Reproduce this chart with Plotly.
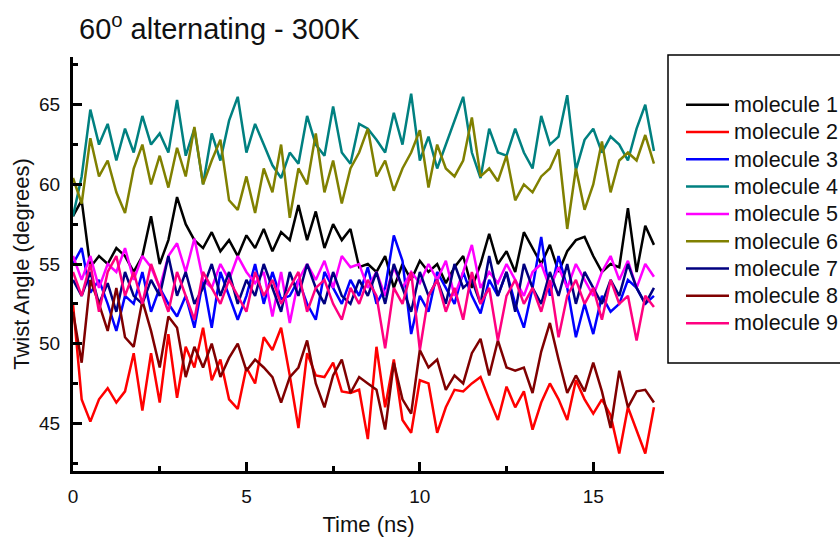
import numpy as np
import plotly.graph_objects as go

# time axis (ns), sampled every 0.25 ns
time_ns = [round(0.25 * i, 2) for i in range(68)]

molecule_1 = [58.0, 59.0, 54.8, 55.5,
              55.0, 56.0, 55.5, 54.5,
              55.5, 58.0, 55.0, 56.5,
              59.2, 57.5, 56.5, 56.0,
              57.0, 55.8, 56.5, 55.5,
              56.8, 56.0, 57.2, 55.8,
              57.0, 56.5, 58.7, 56.5,
              58.3, 56.0, 57.5, 56.5,
              57.2, 54.8, 55.0, 54.5,
              55.5, 53.5, 55.0, 54.0,
              55.2, 54.5, 55.0, 53.8,
              54.8, 55.5, 53.5, 55.0,
              56.9, 55.0, 55.8, 54.5,
              57.0, 56.0, 55.0, 56.2,
              54.5, 55.8, 56.5, 56.7,
              55.5, 54.5, 55.0, 54.8,
              58.5, 54.5, 57.4, 56.2]

molecule_2 = [52.5, 46.5, 45.1, 46.5,
              47.2, 46.3, 47.0, 49.4,
              45.8, 49.4, 46.3, 50.6,
              46.6, 49.8, 48.5, 51.0,
              47.7, 49.0, 46.5, 45.9,
              48.5, 47.5, 50.4, 49.6,
              51.0, 48.0, 44.7, 49.4,
              48.0, 47.9, 48.8, 47.0,
              46.9, 47.1, 44.0, 49.8,
              46.0, 49.0, 45.2, 44.4,
              47.7, 47.5, 44.4, 46.0,
              47.1, 47.0, 47.5, 47.9,
              46.5, 45.2, 47.3, 46.0,
              47.0, 44.6, 46.3, 47.5,
              46.5, 45.2, 47.7, 46.5,
              45.6, 46.5, 45.5, 43.1,
              46.0, 44.5, 43.1, 46.0]

molecule_3 = [55.0, 56.0, 53.2, 54.0,
              52.5, 50.8, 53.0, 52.5,
              54.5, 52.0, 53.5, 52.5,
              51.7, 53.0, 51.0, 54.0,
              51.0, 54.5, 53.0, 51.5,
              53.0, 55.0, 52.5, 54.5,
              52.8, 53.0, 54.0, 52.5,
              51.5, 54.5, 53.5, 52.5,
              54.0, 53.0, 54.8, 52.5,
              53.5, 56.8, 55.2, 50.6,
              53.0, 52.0, 54.5, 53.5,
              52.5, 54.5, 53.0, 51.9,
              54.0, 53.0, 54.5, 52.5,
              51.0, 53.5, 56.7, 53.0,
              55.5, 53.5, 50.4, 52.5,
              50.6, 53.0, 52.0, 52.5,
              54.0, 53.5, 52.5, 53.0]

molecule_4 = [58.0, 60.5, 64.7, 62.5,
              63.8, 61.5, 63.5, 62.0,
              64.3, 62.5, 63.2, 62.0,
              65.3, 61.8, 63.5, 60.0,
              63.2, 61.5, 64.0, 65.5,
              62.0, 63.8, 62.5, 61.2,
              60.4, 62.0, 61.3, 64.3,
              62.5, 61.8, 64.9, 62.0,
              61.3, 63.8, 63.5, 62.8,
              62.0, 64.5, 62.5, 65.7,
              61.5, 63.0, 61.0, 62.5,
              64.0, 65.5, 62.0, 60.4,
              63.5, 62.0, 61.8, 63.5,
              62.0, 61.0, 64.3, 62.5,
              63.0, 65.6, 60.9, 62.8,
              63.5, 62.0, 63.0, 62.5,
              61.5, 63.5, 65.0, 62.1]

molecule_5 = [55.5, 54.0, 55.5, 53.5,
              55.0, 54.5, 56.0, 54.0,
              55.5, 54.8, 53.5, 55.5,
              56.3, 54.5, 56.6, 54.0,
              53.5, 55.0, 54.0, 55.5,
              54.5, 53.8, 54.5, 51.7,
              54.5, 51.3, 54.0, 55.0,
              54.0, 55.2, 53.5, 55.5,
              54.8, 55.0, 53.5, 54.5,
              53.0, 54.8, 53.5, 54.5,
              53.8, 55.0, 54.0, 55.2,
              53.0, 54.5, 56.2, 53.5,
              54.5, 53.8, 55.0, 54.0,
              53.0, 54.5, 55.0, 53.5,
              54.8, 53.5, 55.0, 54.0,
              53.0, 54.5, 55.5, 54.0,
              55.2, 53.5, 55.0, 54.2]

molecule_6 = [60.4, 58.8, 62.9, 60.5,
              61.5, 59.5, 58.2, 61.0,
              62.5, 60.0, 61.8, 59.8,
              62.3, 60.5, 63.6, 60.0,
              61.5, 62.8, 59.0, 58.4,
              60.5, 58.2, 61.0, 59.5,
              62.5, 57.9, 61.0, 60.0,
              63.2, 59.5, 61.5, 58.8,
              61.0, 62.0, 63.5, 60.5,
              61.5, 59.6, 61.0, 62.0,
              63.4, 59.8, 62.5, 61.0,
              60.5, 61.5, 64.2, 60.5,
              61.0, 60.2, 61.8, 59.0,
              60.0, 59.5, 60.5, 61.0,
              62.2, 57.2, 61.0, 58.4,
              60.0, 62.7, 59.5, 61.5,
              62.0, 61.5, 63.1, 61.3]

molecule_7 = [54.0, 53.0, 54.5, 52.5,
              53.8, 52.0, 54.5, 53.0,
              52.5, 54.0, 53.0, 55.5,
              53.0, 54.5, 52.5, 53.5,
              55.0, 53.0, 54.5, 52.5,
              54.0, 53.0, 55.0, 53.5,
              52.0, 54.5, 53.0, 55.0,
              53.5, 52.5, 54.5, 53.0,
              52.5, 54.0, 53.0, 54.5,
              52.5, 55.0, 53.5, 52.0,
              54.5, 53.0, 54.0, 52.5,
              55.0, 53.5, 54.0, 52.5,
              55.5, 53.0, 54.5, 52.0,
              55.0, 53.5, 52.5, 54.5,
              53.0, 55.0, 52.5, 54.5,
              53.5, 52.5, 54.0, 53.0,
              55.0, 53.5, 52.5, 53.5]

molecule_8 = [52.0, 48.8, 54.0, 52.5,
              50.8, 53.5, 50.4, 49.8,
              52.7, 50.8, 48.5, 51.7,
              51.0, 47.9, 49.8, 48.5,
              50.0, 47.9, 49.1, 50.0,
              48.3, 49.0, 48.5, 47.9,
              46.3, 47.9, 48.5, 50.2,
              47.5, 46.0, 48.0, 49.0,
              46.9, 47.9, 47.5, 47.1,
              44.6, 48.8, 46.5, 45.6,
              49.6, 48.5, 49.0, 47.1,
              48.0, 47.5, 49.4, 50.3,
              48.0, 50.2, 48.5, 48.3,
              48.5, 46.9, 49.5, 51.3,
              49.0, 46.9, 48.0, 47.0,
              48.8, 47.0, 44.7, 48.3,
              46.0, 47.0, 47.1, 46.3]

molecule_9 = [54.5, 53.0, 55.0, 52.0,
              54.5, 55.5, 53.0, 54.5,
              52.5, 55.0, 53.5, 52.0,
              54.5, 53.0, 51.5, 54.5,
              53.5, 52.5, 54.0, 53.0,
              52.0, 54.5, 53.0, 54.0,
              52.5, 53.5, 54.5, 52.0,
              53.5, 54.0, 52.5, 51.5,
              53.5, 52.5, 54.0, 53.0,
              49.7, 53.5, 52.5, 54.5,
              49.6, 53.0, 54.0, 52.0,
              53.5, 51.5, 54.5, 52.5,
              53.5, 50.2, 53.0, 54.0,
              52.5, 53.5, 52.0, 54.0,
              50.4, 53.0, 54.0, 52.5,
              53.5, 51.5, 54.0, 52.5,
              53.0, 50.2, 53.0, 52.3]

series_names = ["molecule 1", "molecule 2", "molecule 3", "molecule 4", "molecule 5",
                "molecule 6", "molecule 7", "molecule 8", "molecule 9"]
series_values = [molecule_1, molecule_2, molecule_3, molecule_4, molecule_5,
                 molecule_6, molecule_7, molecule_8, molecule_9]
series_colors = ["#000000", "#FF0000", "#0000FF", "#008080", "#FF00FF",
                 "#808000", "#000080", "#800000", "#FF0080"]

FONT = "Liberation Sans, Arial, sans-serif"
TXT = "#111111"

fig = go.Figure()
for name, vals, col in zip(series_names, series_values, series_colors):
    fig.add_trace(go.Scatter(
        x=time_ns, y=vals, mode="lines",
        name='<span style="font-size:21.5px">' + name + '</span>',
        line=dict(color=col, width=2.5)))

L, R, T, B = 73, 176, 57, 66
PW = 840 - L - R
PH = 537 - T - B

fig.update_layout(
    width=840, height=537,
    margin=dict(l=L, r=R, t=T, b=B, autoexpand=False),
    paper_bgcolor="white", plot_bgcolor="white",
    font=dict(family=FONT, color=TXT),
    title=dict(text="60<sup>o</sup> alternating - 300K", x=79/840, xanchor="left",
               xref="container", y=1-29/537, yanchor="middle",
               font=dict(size=29, family=FONT, color=TXT)),
    showlegend=True,
    legend=dict(x=(681-L)/PW, xanchor="left", y=(537-B-86)/PH, yanchor="top",
                bgcolor="rgba(0,0,0,0)", borderwidth=0,
                font=dict(size=18.7, family=FONT, color=TXT),
                itemwidth=43),
)

fig.update_xaxes(range=[0, 17.04], showgrid=False, zeroline=False,
                 showline=True, linecolor="black", linewidth=3,
                 ticks="inside", ticklen=9, tickwidth=2.5, tickcolor="black",
                 tickvals=[0, 5, 10, 15],
                 minor=dict(ticks="inside", ticklen=5, tickwidth=2.5, tickcolor="black",
                            dtick=2.5, tick0=0),
                 tickfont=dict(size=19, family=FONT, color=TXT),
                 ticklabelstandoff=6,
                 title=dict(text="Time (ns)", font=dict(size=22, family=FONT, color=TXT),
                            standoff=12))
fig.update_yaxes(range=[42.0, 68.0], showgrid=False, zeroline=False,
                 showline=True, linecolor="black", linewidth=3,
                 ticks="inside", ticklen=9, tickwidth=2.5, tickcolor="black",
                 tickvals=[45, 50, 55, 60, 65],
                 minor=dict(ticks="inside", ticklen=5, tickwidth=2.5, tickcolor="black",
                            dtick=2.5, tick0=0),
                 tickfont=dict(size=19, family=FONT, color=TXT),
                 ticklabelstandoff=6,
                 title=dict(text="Twist Angle (degrees)",
                            font=dict(size=22, family=FONT, color=TXT),
                            standoff=4))

# legend frame (extends past the right edge as in the reference)
fig.add_shape(type="rect", xref="paper", yref="paper",
              x0=(668-L)/PW, x1=1.4, y0=(537-B-363)/PH, y1=(537-B-55)/PH,
              line=dict(color="black", width=1.5), fillcolor="rgba(0,0,0,0)")

fig.write_html("out.html")
